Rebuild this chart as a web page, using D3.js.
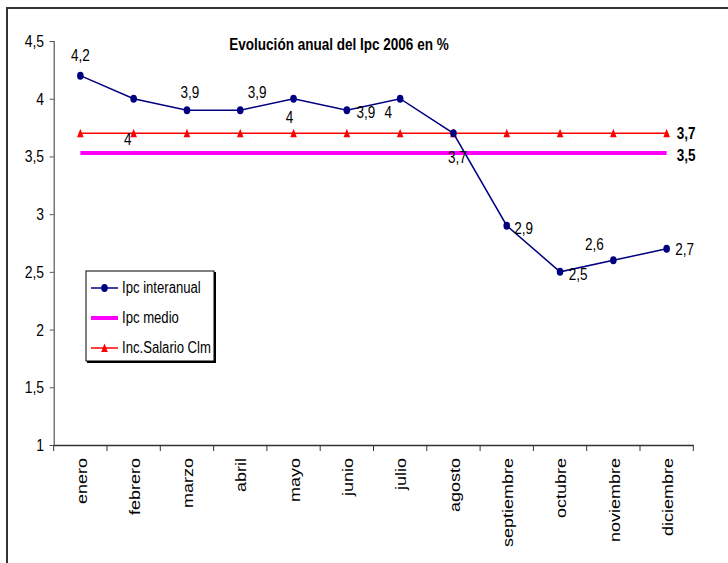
<!DOCTYPE html>
<html>
<head>
<meta charset="utf-8">
<script src="https://cdn.jsdelivr.net/npm/d3@7"></script>
<style>
  html, body { margin: 0; padding: 0; background: #fff; }
  svg { display: block; }
  text { font-family: "Liberation Sans", Arial, sans-serif; fill: #000; }
</style>
</head>
<body>
<svg id="chart" width="728" height="563"></svg>
<script>
// ---- data ----
const months = ["enero","febrero","marzo","abril","mayo","junio","julio","agosto","septiembre","octubre","noviembre","diciembre"];
const ipcInteranual = [4.2, 4.0, 3.9, 3.9, 4.0, 3.9, 4.0, 3.7, 2.9, 2.5, 2.6, 2.7];
const ipcMedio = [3.53, 3.53, 3.53, 3.53, 3.53, 3.53, 3.53, 3.53, 3.53, 3.53, 3.53, 3.53];
const incSalario = [3.7, 3.7, 3.7, 3.7, 3.7, 3.7, 3.7, 3.7, 3.7, 3.7, 3.7, 3.7];
const yTicks = [1, 1.5, 2, 2.5, 3, 3.5, 4, 4.5];
const seriesNames = ["Ipc interanual", "Ipc medio", "Inc.Salario Clm"];
const chartTitle = "Evolución anual del Ipc 2006 en %";

// label placement (offsets of data labels from their points)
const labelOffsets = [[0,-21],[-6,40],[3,-18],[17,-18],[-4,18],[19,2],[-12,13],[4,24],[17,2],[18,2],[-19,-16],[18,0]];

(function () {
const NARROW = 0.82;
const fmt = v => d3.format(".1f")(v).replace(/\.0$/, "").replace(".", ",");

const svg = d3.select("#chart");

// outer frame
svg.append("rect").attr("x", 7).attr("y", 8).attr("width", 740).attr("height", 580)
  .attr("fill", "#fff").attr("stroke", "#333").attr("stroke-width", 2);

const pLeft = 53.7, pRight = 693.3, pTop = 41, pBottom = 445;

const x = d3.scaleBand().domain(months).range([pLeft, pRight]).paddingInner(0).paddingOuter(0);
const y = d3.scaleLinear().domain([1, 4.5]).range([pBottom, pTop]);
const cx = m => x(m) + x.bandwidth() / 2;

function narrowText(g, str, px, py, opts) {
  return g.append("text")
    .attr("transform", `translate(${px},${py}) scale(${opts.sx || NARROW},1)`)
    .attr("text-anchor", opts.anchor || "middle")
    .attr("dominant-baseline", opts.baseline || "central")
    .style("font-size", opts.size + "px")
    .style("font-weight", opts.weight || "normal")
    .text(str);
}

// y axis
const yAxis = svg.append("g").attr("transform", `translate(${pLeft},0)`)
  .call(d3.axisLeft(y).tickValues(yTicks).tickSize(4).tickFormat(() => ""));
yAxis.select(".domain").attr("stroke", "#555").attr("stroke-width", 1.2);
yAxis.selectAll(".tick line").attr("stroke", "#555");
yTicks.forEach(v => narrowText(svg, fmt(v), 44, y(v), {size: 17, anchor: "end"}));

// x axis
const xAxis = svg.append("g").attr("transform", `translate(0,${pBottom})`)
  .call(d3.axisBottom(x).tickSize(0).tickFormat(() => ""));
xAxis.select(".domain").attr("stroke", "#333").attr("stroke-width", 1.5);
xAxis.selectAll(".tick line").remove();
const boundaries = months.map(m => x(m)).concat([pRight]);
svg.append("g").selectAll("line").data(boundaries).join("line")
  .attr("x1", d => d).attr("x2", d => d).attr("y1", pBottom).attr("y2", pBottom + 6)
  .attr("stroke", "#333").attr("stroke-width", 1);
months.forEach(m => {
  svg.append("text")
    .attr("transform", `translate(${cx(m) + 1},${458}) scale(0.78,1) rotate(-90)`)
    .attr("text-anchor", "end")
    .attr("dominant-baseline", "central")
    .style("font-size", "18px")
    .text(m);
});

// title
narrowText(svg, chartTitle, 339, 44, {size: 16.5, weight: "bold"});

const line = d3.line().x((d, i) => cx(months[i])).y(d => y(d));

// Ipc medio (magenta)
svg.append("path").datum(ipcMedio).attr("d", line)
  .attr("fill", "none").attr("stroke", "#FF00FF").attr("stroke-width", 4);

// Inc. Salario (red with triangles)
svg.append("path").datum(incSalario).attr("d", line)
  .attr("fill", "none").attr("stroke", "#FF0000").attr("stroke-width", 1.5);
const tri = (px, py) => `M${px},${py - 4.5}L${px + 3.3},${py + 4}L${px - 3.3},${py + 4}Z`;
svg.append("g").selectAll("path").data(incSalario).join("path")
  .attr("d", (d, i) => tri(cx(months[i]), y(d))).attr("fill", "#FF0000");

// Ipc interanual (navy with circles)
svg.append("path").datum(ipcInteranual).attr("d", line)
  .attr("fill", "none").attr("stroke", "#000080").attr("stroke-width", 1.5);
svg.append("g").selectAll("ellipse").data(ipcInteranual).join("ellipse")
  .attr("cx", (d, i) => cx(months[i])).attr("cy", d => y(d))
  .attr("rx", 3.3).attr("ry", 4).attr("fill", "#000080");

// data labels
ipcInteranual.forEach((v, i) => {
  const [dx, dy] = labelOffsets[i];
  narrowText(svg, fmt(v), cx(months[i]) + dx, y(v) + dy, {size: 16.5});
});

// end labels
const last = months.length - 1;
narrowText(svg, fmt(incSalario[last]), cx(months[last]) + 10, y(incSalario[last]), {size: 16.5, weight: "bold", anchor: "start"});
narrowText(svg, fmt(ipcMedio[last]), cx(months[last]) + 10, y(ipcMedio[last]) + 2, {size: 16.5, weight: "bold", anchor: "start"});

// legend
const lg = svg.append("g");
lg.append("rect").attr("x", 87).attr("y", 272).attr("width", 129).attr("height", 91)
  .attr("fill", "#000");
lg.append("rect").attr("x", 86).attr("y", 271).attr("width", 128).attr("height", 90)
  .attr("fill", "#fff").attr("stroke", "#000").attr("stroke-width", 1);
const rows = [288, 318, 348];
lg.append("line").attr("x1", 91).attr("x2", 118).attr("y1", rows[0]).attr("y2", rows[0])
  .attr("stroke", "#000080").attr("stroke-width", 1.5);
lg.append("ellipse").attr("cx", 104.5).attr("cy", rows[0]).attr("rx", 3.3).attr("ry", 4).attr("fill", "#000080");
lg.append("line").attr("x1", 91).attr("x2", 118).attr("y1", rows[1]).attr("y2", rows[1])
  .attr("stroke", "#FF00FF").attr("stroke-width", 4);
lg.append("line").attr("x1", 91).attr("x2", 118).attr("y1", rows[2]).attr("y2", rows[2])
  .attr("stroke", "#FF0000").attr("stroke-width", 1.5);
lg.append("path").attr("d", tri(104.5, rows[2])).attr("fill", "#FF0000");
seriesNames.forEach((n, i) => narrowText(lg, n, 122, rows[i], {size: 16, anchor: "start"}));
})();
</script>
</body>
</html>
